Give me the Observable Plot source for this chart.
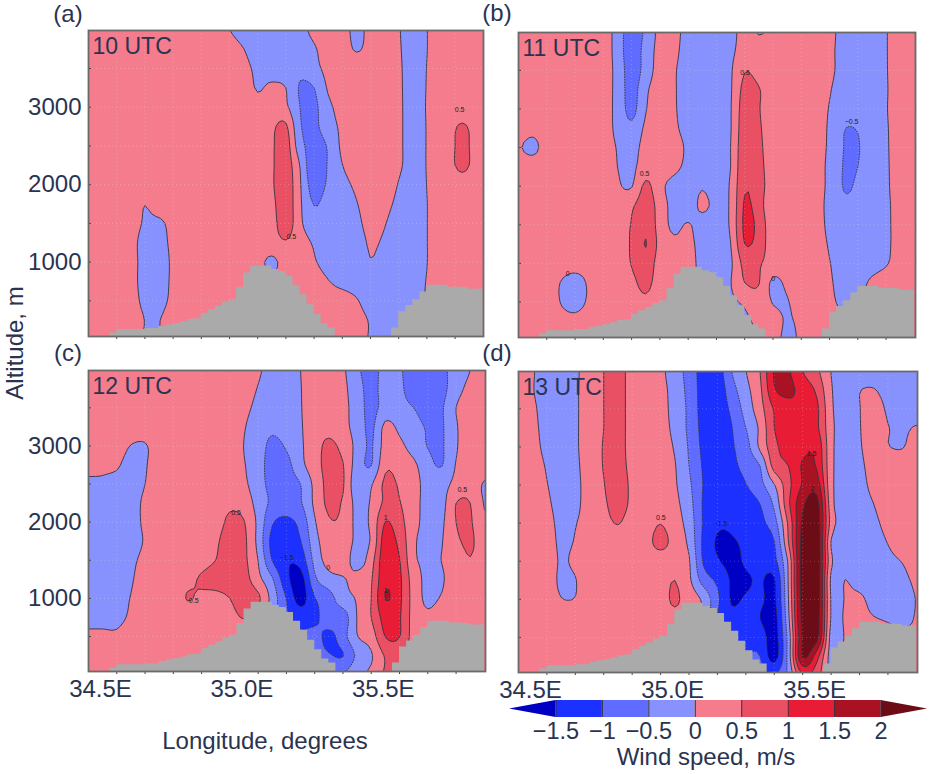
<!DOCTYPE html>
<html><head><meta charset="utf-8">
<script src="https://cdn.jsdelivr.net/npm/d3@7"></script>
<script src="https://cdn.jsdelivr.net/npm/@observablehq/plot@0.6"></script>
<style>
html,body{margin:0;padding:0;background:#fff}
#page{position:relative;width:930px;height:774px;overflow:hidden;font-family:"Liberation Sans",Arial,sans-serif;color:#2a3350}
#page>div{position:absolute}
#page svg{overflow:visible;display:block}
.t{white-space:nowrap;line-height:1}
</style></head><body><div id="page"></div>
<script>
const thresholds=[-2,-1.5,-1,-0.5,0,0.5,1,1.5,2];
const colors=["#0000c4","#1c30ff","#5f6cff","#8892ff","#f47c8c","#ea5064","#e81c34","#a81222","#6c0c16"];
const lonTicks=[34.6,34.7,34.8,34.9,35.0,35.1,35.2,35.3,35.4,35.5,35.6,35.7,35.8];
const lonLabels=[34.5,35.0,35.5];
const altTicks=[500,1000,1500,2000,2500,3000,3500];
const altLabels=[1000,2000,3000];
const terrainAlt=[0,0,0,86,129,129,129,129,142,142,172,190,206,230,260,270,340,385,430,480,515,670,860,950,950,950,905,880,815,700,580,450,325,205,150,0,0,0,0,0,0,0,0,150,360,440,515,615,700,700,700,675,675,670,650,650,650];

// wind speed grids: rows 4000 m down to 0 m by 250 m, columns 34.50E to 35.90E by 0.05
const wind10=[
[.3,.3,.3,.3,.3,.3,.3,.3,.3,.3,.01,-.3,-.3,-.3,-.3,-.17,.14,.3,.19,-.12,.14,.3,.04,-.26,-.01,.29,.3,.3,.3],
[.3,.3,.3,.3,.3,.3,.3,.3,.3,.3,.3,.01,-.3,-.3,-.3,-.3,-.06,.24,.25,-.05,.17,.3,.06,-.24,-.01,.29,.3,.3,.3],
[.3,.3,.3,.3,.3,.3,.3,.3,.3,.3,.3,.17,-.14,-.3,-.3,-.38,-.15,.15,.3,.3,.3,.3,.08,-.22,.01,.3,.3,.3,.3],
[.3,.3,.3,.3,.3,.3,.3,.3,.3,.3,.3,.3,-.05,.12,0,-.55,-.5,.06,.3,.3,.3,.3,.09,-.22,.02,.3,.3,.3,.3],
[.3,.3,.3,.3,.3,.3,.3,.3,.3,.3,.3,.3,.2,.25,.09,-.5,-.6,-.12,.19,.3,.3,.3,.1,-.22,.03,.3,.4,.4,.3],
[.3,.3,.3,.3,.3,.3,.3,.3,.3,.3,.3,.3,.3,.42,.58,-.45,-.6,-.22,.1,.3,.3,.3,.1,-.22,.02,.3,.49,.49,.3],
[.3,.3,.3,.3,.3,.3,.3,.3,.3,.3,.3,.3,.3,.44,.7,-.3,-.7,-.45,.1,.3,.3,.3,.1,-.22,.02,.3,.5,.5,.3],
[.3,.3,.3,.3,.3,.3,.3,.3,.3,.3,.3,.3,.3,.44,.75,-.02,-.9,-.45,-.01,.29,.3,.3,.09,-.22,.02,.3,.5,.5,.3],
[.3,.3,.3,.3,.3,.3,.3,.3,.3,.3,.3,.3,.3,.44,.8,.05,-.75,-.42,-.18,.11,.3,.3,-.03,-.3,.01,.3,.42,.42,.3],
[.3,.3,.3,.3,.01,.3,.3,.3,.3,.3,.3,.3,.3,.38,.8,.08,-.52,-.3,-.3,-.03,.25,.17,-.14,-.3,-.01,.3,.3,.3,.3],
[.3,.3,.3,.24,-.06,-.11,.19,.3,.3,.3,.3,.3,.3,.3,.8,.1,-.3,-.3,-.3,-.13,.17,.03,-.28,-.3,-.01,.3,.3,.3,.3],
[.3,.3,.3,.19,-.2,-.18,.12,.3,.3,.3,.3,.3,.3,.3,.45,.22,-.06,-.3,-.3,-.24,.06,-.08,-.3,-.3,-.01,.3,.3,.3,.3],
[.3,.3,.3,.16,-.15,-.2,.08,.3,.3,.3,.3,.3,.15,-.1,.2,.3,.06,-.25,-.3,-.3,-.03,-.2,-.3,-.3,-.01,.3,.3,.3,.3],
[.3,.3,.3,.15,-.15,-.2,.09,.3,.3,.3,.3,.3,.3,.1,.3,.3,.3,.03,-.2,-.3,-.3,-.3,-.3,-.3,.03,.3,.3,.3,.3],
[.3,.3,.3,.19,-.11,-.17,.13,.3,.3,.3,.3,.3,.3,.3,.3,.3,.3,.3,.3,.06,-.3,-.3,-.3,-.3,.1,.3,.3,.3,.3],
[.3,.3,.3,.3,-.01,-.02,.28,.3,.3,.3,.3,.3,.3,.3,.3,.3,.3,.3,.3,.24,-.06,-.3,-.1,.3,.3,.3,.3,.3,.3],
[.3,.3,.3,.3,-.05,-.05,.3,.3,.3,.3,.3,.3,.3,.3,.3,.3,.3,.3,.3,.24,-.06,-.3,-.1,.3,.3,.3,.3,.3,.3]];
const wind11=[
[.52,.3,.3,.3,.3,.3,.25,-.2,-.8,-.4,.13,.13,-.17,-.3,-.3,-.15,.15,-.03,.1,.3,.3,.3,.13,-.16,-.3,-.3,-.03,.3,.3],
[.3,.3,.3,.3,.3,.3,.25,-.2,-.8,-.3,.15,.1,-.2,-.3,-.3,-.1,.2,.2,.2,.3,.3,.3,.11,-.18,-.3,-.3,-.03,.3,.3],
[.3,.3,.3,.3,.3,.3,.22,-.15,-.75,-.3,.2,.05,-.25,-.3,-.3,-.06,.47,.35,.3,.3,.3,.3,.11,-.18,-.3,-.3,-.03,.25,.3],
[.3,.3,.3,.3,.3,.3,.22,-.15,-.7,-.1,.25,.05,-.25,-.3,-.3,-.05,.65,.52,.3,.3,.3,.3,.04,-.25,-.3,-.3,-.04,.25,.3],
[.3,.3,.3,.3,.3,.3,.22,-.15,-.65,-.03,.28,.06,-.25,-.3,-.3,-.03,.75,.52,.3,.3,.3,.3,-.03,-.3,-.3,-.3,-.03,.25,.3],
[.3,.18,.3,.3,.3,.3,.23,-.12,-.4,.1,.3,.1,-.2,-.3,-.3,-.03,.8,.55,.3,.3,.3,.3,-.08,-.48,-.48,-.3,-.05,.25,.3],
[.05,-.15,.25,.3,.3,.3,.25,-.03,-.2,.2,.3,.22,-.1,-.3,-.3,0,.85,.6,.25,.3,.3,.3,-.1,-.5,-.52,-.3,-.06,.25,.3],
[.3,.3,.3,.3,.3,.3,.28,0,-.1,.25,.3,.15,-.15,-.3,-.3,0,.9,.65,.25,.3,.3,.3,-.15,-.52,-.5,-.3,-.07,.25,.3],
[.3,.3,.3,.3,.3,.3,.3,.06,-.03,.6,.15,-.2,-.3,-.05,-.3,.06,.95,.7,.25,.3,.3,.3,-.15,-.52,-.45,-.3,-.08,.25,.3],
[.3,.3,.3,.3,.3,.3,.3,.15,.42,.75,.3,-.2,-.3,.12,-.15,.06,1.06,.72,.1,.3,.3,.3,-.2,-.42,-.4,-.3,-.1,.22,.3],
[.3,.3,.3,.3,.3,.3,.3,.3,.52,.85,.3,-.12,.04,-.25,-.3,.07,1.1,.85,.15,.3,.3,.3,-.15,-.3,-.3,-.3,-.1,.2,.3],
[.3,.3,.3,.3,.3,.3,.3,.3,.55,1.02,.35,.12,.15,-.2,-.3,-.01,1.0,.8,.2,.3,.3,.3,-.06,-.3,-.3,-.3,-.1,.2,.3],
[.3,.3,.3,.3,.3,.3,.3,.3,.52,.8,.3,.3,.25,-.2,-.3,-.08,.65,.55,.3,.3,.3,.3,.02,-.25,-.3,-.25,-.05,.25,.3],
[.3,.3,.3,-.02,-.3,.1,.3,.3,.4,.62,.3,.3,.3,-.2,-.3,-.02,.5,.52,-.1,.1,.3,.3,.08,-.25,-.25,.12,.3,.3,.3],
[.3,.3,.3,-.02,-.25,.1,.3,.3,.35,.42,.3,.3,.3,-.2,-.3,-.1,.08,.3,-.03,-.03,.25,.3,.15,-.15,-.05,.3,.3,.3,.3],
[.3,.3,.3,.2,.2,.3,.3,.3,.3,.3,.3,.3,.3,-.2,-.3,-.3,-.1,.1,.2,-.05,.12,.3,.3,.1,.1,.3,.3,.3,.3],
[.3,.3,.3,.3,.3,.3,.3,.3,.3,.3,.3,.3,.3,-.2,-.3,-.3,-.2,.05,.2,-.15,.1,.3,.3,.1,.1,.3,.3,.3,.3]];
const wind12=[
[.3,.3,.3,.3,.3,.3,.3,.3,.3,.3,.3,.3,.08,-.22,-.3,0,.3,.3,.08,-.4,-.7,-.3,-.45,-.7,-.7,-.6,-.3,0,.3],
[.3,.3,.3,.3,.3,.3,.3,.3,.3,.3,.3,.25,-.03,-.3,-.3,-.02,.3,.3,.12,-.3,-.65,-.3,-.4,-.75,-.8,-.65,-.2,.15,.3],
[.3,.3,.3,.3,.3,.3,.3,.3,.3,.3,.3,.15,-.15,-.3,-.3,-.03,.3,.3,.15,-.25,-.65,-.3,-.35,-.5,-.75,-.55,0,.3,.3],
[.3,.3,.3,.3,.3,.3,.3,.3,.3,.3,.3,.04,-.3,-.42,-.3,-.05,.3,.35,.15,-.2,-.6,.12,-.1,-.3,-.55,-.55,-.05,.3,.3],
[.3,.3,.3,-.02,-.05,.3,.3,.3,.3,.3,.3,-.01,-.3,-.6,-.45,-.08,.3,.6,.35,-.15,-.55,.2,.1,-.2,-.52,-.55,-.05,.3,.3],
[.15,.12,.08,-.25,-.05,.3,.3,.3,.3,.3,.3,.03,-.3,-.7,-.65,-.15,.3,.65,.52,-.25,-.52,.4,.3,.1,-.35,-.52,.03,.3,.3],
[-.1,-.1,-.2,-.25,0,.3,.3,.3,.3,.3,.3,.1,-.3,-.65,-.7,-.5,.13,.65,.55,-.35,-.05,.6,.45,.25,-.25,-.2,.15,.3,-.05],
[-.3,-.3,-.3,-.22,.1,.3,.3,.3,.3,.3,.42,.3,-.2,-.6,-.75,-.55,.1,.6,.45,-.15,.05,.6,.52,.2,-.2,-.15,.5,.5,-.03],
[-.3,-.3,-.3,-.22,.1,.3,.3,.3,.3,.3,.6,.52,-.12,-.95,-1.1,-.85,-.05,.45,.4,-.12,.1,1.02,.65,.2,-.2,-.08,.5,.55,.1],
[-.3,-.3,-.3,-.25,.05,.3,.3,.3,.3,.42,.75,.6,-.15,-1.15,-1.25,-1.02,-.2,.3,.3,-.1,.05,1.25,.85,.1,-.2,-.02,.42,.55,.3],
[-.3,-.3,-.3,-.12,.15,.3,.3,.3,.35,.5,.75,.6,-.01,-1.02,-1.45,-1.3,-.35,.2,.3,-.25,.3,1.35,1.02,.1,-.05,.01,.3,.48,.3],
[-.3,-.3,-.3,-.06,.25,.3,.3,.4,.55,.7,.8,.7,.15,-.45,-1.35,-1.7,-.6,-.2,-.05,.2,.45,1.4,1.1,.25,-.1,-.05,.3,.3,.3],
[-.3,-.3,-.2,.02,.3,.3,.3,.52,.42,.35,.5,.8,.6,-.2,-1.02,-1.7,-1.02,-.7,-.2,.05,.5,1.52,1.1,.3,-.1,.05,.3,.3,.3],
[-.15,-.15,-.15,.09,.3,.3,.3,.3,.3,.3,.35,.52,.3,-.3,-.9,-1.2,-1.15,-.65,-.75,.02,.5,1.2,1.05,.3,.1,.3,.3,.3,.3],
[.1,.1,.1,.3,.3,.3,.3,.3,.3,.3,.3,.3,.3,-.3,-.6,-.9,-.8,-1.15,-.7,-.02,.25,1.02,1.02,.3,.3,.3,.3,.3,.3],
[.3,.3,.3,.3,.3,.3,.3,.3,.3,.3,.3,.3,.3,-.3,-.5,-.7,-.7,-.95,-1.02,-.4,-.05,.55,.6,.3,.3,.3,.3,.3,.3],
[.3,.3,.3,.3,.3,.3,.3,.3,.3,.3,.3,.3,.3,-.3,-.4,-.5,-.5,-.5,-.5,-.1,.1,.55,.4,.3,.3,.3,.3,.3,.3]];
const wind13=[
[.3,.05,-.3,-.3,-.1,.3,.5,.7,.3,.3,.1,-.25,-.7,-1.2,-1.25,-.5,-.01,.5,1.55,1.55,1.0,.6,-.01,-.3,-.3,-.3,-.3,-.3,-.3],
[.3,.03,-.3,-.3,-.07,.25,.5,.7,.3,.3,.15,-.2,-.65,-1.2,-1.3,-.7,-.15,.4,1.45,1.6,1.3,.9,.05,-.3,-.02,.03,-.25,-.3,-.3],
[.3,.1,-.25,-.3,-.07,.25,.5,.7,.3,.3,.2,-.2,-.6,-1.2,-1.25,-.9,-.3,.3,1.05,1.35,1.4,1.1,.1,-.3,-.02,.3,-.1,-.3,-.3],
[.3,.14,-.2,-.3,-.08,.3,.5,.7,.3,.3,.22,-.15,-.6,-1.15,-1.25,-1.02,-.5,.1,1.0,1.3,1.4,1.1,.15,-.3,-.03,.3,.02,-.1,.05],
[.3,.18,-.15,-.3,-.08,.3,.52,.7,.3,.3,.25,-.05,-.55,-1.1,-1.2,-1.05,-.7,.1,.85,1.25,1.4,1.35,.15,-.3,-.05,.22,.02,-.03,.25],
[.3,.25,-.05,-.3,-.1,.25,.52,.7,.35,.3,.3,.03,-.5,-1.05,-1.2,-1.1,-.85,-.5,.7,1.0,1.55,1.45,.15,-.3,-.1,.18,.3,.3,.3],
[.3,.28,.02,-.25,-.12,.22,.48,.75,.4,.3,.3,.06,-.4,-1.02,-1.15,-1.2,-1.02,-.65,-.03,.85,1.55,1.75,.15,-.25,-.15,.13,.3,.3,.3],
[.3,.3,.1,-.2,-.1,.2,.42,.7,.4,.3,.3,.12,-.3,-1.05,-1.15,-1.2,-1.2,-1.0,-.4,.9,1.9,2.2,.2,-.25,-.2,0,.25,.3,.3],
[.3,.3,.2,-.15,-.02,.18,.35,.52,.3,.3,.49,.2,-.2,-1.05,-1.4,-1.4,-1.2,-1.1,-.7,.6,2.1,2.3,.3,-.25,-.2,-.1,.15,.3,.3],
[.3,.3,.25,-.1,.03,.2,.25,.3,.3,.35,.65,.3,-.1,-1.1,-1.55,-1.55,-1.4,-1.2,-1.02,.5,2.2,2.4,-.02,-.3,-.3,-.2,.02,.3,.3],
[.3,.3,.28,-.05,.1,.25,.3,.3,.3,.3,.25,.3,.05,-1.05,-1.45,-1.6,-1.45,-1.3,-1.15,.1,2.3,2.4,.1,-.3,-.3,-.3,-.15,.02,.25],
[.3,.3,.3,-.1,-.02,.3,.3,.3,.3,.3,.3,.5,.1,-.7,-1.1,-1.55,-1.55,-1.45,-1.55,.05,2.3,2.4,-.1,.01,-.2,-.3,-.3,-.15,.1],
[.3,.3,.3,.02,.02,.3,.3,.3,.3,.3,.35,.55,.3,-.1,-.9,-1.55,-1.45,-1.4,-1.6,0,2.25,2.4,-.05,.03,.1,-.2,-.3,-.3,.02],
[.3,.3,.3,.3,.3,.3,.3,.3,.3,.3,.3,.4,.3,-.1,-1,-1.35,-1.2,-1.5,-1.7,-.1,2.2,2.3,-.05,.06,.15,.03,-.08,-.25,.05],
[.3,.3,.3,.3,.3,.3,.3,.3,.3,.3,.3,.3,.3,-.2,-.8,-1.1,-1.1,-1.2,-1.7,-.3,2.1,2.2,-.2,.05,.2,.3,.3,.3,.1],
[.3,.3,.3,.3,.3,.3,.3,.3,.3,.3,.3,.3,.3,-.3,-.8,-1,-1,-1,-1.7,-.3,2.05,1.2,-.2,.1,.3,.3,.3,.3,.3],
[.3,.3,.3,.3,.3,.3,.3,.3,.3,.3,.3,.3,.3,-.3,-.6,-.8,-.8,-.8,-1,-.4,1.0,.7,-.1,.3,.3,.3,.3,.3,.3]];

const labels10=[[35.219,1325,"0.5"],[35.816,2968,"0.5"]];
const labels11=[[35.301,3475,"0.5"],[34.946,2163,"0.5"],[35.678,2839,"\u22120.5"],[34.674,860,"0"],[35.401,796,"0"]];
const labels12=[[35.022,2120,"0.5"],[34.872,968,"0.5"],[35.201,1527,"\u22121.5"],[35.348,1398,"0"],[35.822,2426,"0.5"],[35.551,2052,"1"],[35.552,1097,"1"]];
const labels13=[[35.001,2065,"0.5"],[35.211,1991,"\u22121.5"],[35.531,2912,"1.5"],[35.534,2452,"2"]];

const legendBins=[[-1.5,-1],[-1,-0.5],[-0.5,0],[0,0.5],[0.5,1],[1,1.5],[1.5,2]];
const legendTicks=[-1.5,-1,-0.5,0,0.5,1,1.5,2];

const page=document.getElementById("page");
const put=(node,left,top)=>{const d=document.createElement("div");d.style.left=left+"px";d.style.top=top+"px";d.appendChild(node);page.appendChild(d);};
const text=(s,cx,cy,size,rot)=>{const d=document.createElement("div");d.className="t";d.textContent=s;d.style.left=cx+"px";d.style.top=cy+"px";d.style.fontSize=size+"px";d.style.transform=`translate(-50%,-50%)${rot?" rotate(-90deg)":""}`;page.appendChild(d);};

const terrain=terrainAlt.map((alt,i)=>({lon:34.5+i*0.025,alt}));
const fmtMinus=d=>String(d).replace("-","\u2212");

// Rendering only: a cubic resampling of the read grid so contour lines come out rounded like the original's.
const K=4;
function cubic(a,b,c,d,t){return b+0.5*t*(c-a+t*(2*a-5*b+4*c-d+t*(3*(b-c)+d-a)));}
function resample(rows){
  const R=rows.length,C=rows[0].length,out=[];
  const at=(r,c)=>rows[Math.max(0,Math.min(R-1,r))][Math.max(0,Math.min(C-1,c))];
  for(let i=0;i<=(R-1)*K;i++){
    const r=Math.floor(i/K),tr=i/K-r;
    for(let j=0;j<=(C-1)*K;j++){
      const c=Math.floor(j/K),tc=j/K-c;
      const v=[-1,0,1,2].map(o=>cubic(at(r+o,c-1),at(r+o,c),at(r+o,c+1),at(r+o,c+2),tc));
      out.push(cubic(v[0],v[1],v[2],v[3],tr));
    }
  }
  return {values:out,width:(C-1)*K+1,height:(R-1)*K+1};
}

function panel(rows,labels,title,box,showLon,showAlt){
  rows.forEach((r,i)=>{if(r.length!==29||rows.length!==17)throw new Error(title+" row "+i+" has "+r.length);});
  const {values,width,height}=resample(rows);
  const ml=showAlt?box.x:6, mb=showLon?36:10, mt=4, mr=4;
  const W=box.w, H=box.h;
  const hx=0.05/K/2, hy=250/K/2;
  const grid={width,height,x1:34.5-hx,x2:35.9+hx,y1:4000+hy,y2:-hy,value:d=>d,thresholds,clip:true};
  const marks=[
    Plot.contour(values,{...grid,fill:"value",stroke:"none"}),
    Plot.contour(values,{...grid,thresholds:[0,0.5,1,1.5,2],fill:"none",stroke:"#33333e",strokeWidth:0.9}),
    Plot.contour(values,{...grid,thresholds:[-0.5,-1,-1.5],fill:"none",stroke:"#33333e",strokeWidth:0.9,strokeDasharray:"1.6,1"}),
    Plot.gridX(lonTicks,{stroke:"#fff",strokeOpacity:0.22,strokeDasharray:"1,3"}),
    Plot.gridY(altTicks,{stroke:"#fff",strokeOpacity:0.22,strokeDasharray:"1,3"}),
    Plot.areaY(terrain,{x:"lon",y:"alt",y1:0,curve:"step-after",fill:"#aaaaaa",clip:true}),
    Plot.text(labels,{x:d=>d[0],y:d=>d[1],text:d=>d[2],fontSize:7,fill:"#222"}),
    Plot.text([title],{frameAnchor:"top-left",dx:4,dy:7,fontSize:23,fill:"#2a3350"}),
    Plot.tickY(altTicks,{y:d=>d,insetRight:W-3,stroke:"#444"}),
    Plot.axisX({ticks:lonTicks,tickSize:3,tickFormat:()=>"",stroke:"#444",label:null}),
    Plot.frame({stroke:"#6a6a6a",strokeWidth:1.8})
  ];
  if(showLon) marks.push(Plot.axisX({ticks:lonLabels,tickSize:0,tickPadding:8,dx:12,tickFormat:d=>d.toFixed(1)+"E",fontSize:24,fill:"#2a3350",label:null}));
  if(showAlt) marks.push(Plot.axisY({ticks:altLabels,tickSize:0,tickPadding:7,tickFormat:d=>String(d),fontSize:24,fill:"#2a3350",label:null}));
  const svg=Plot.plot({
    width:ml+W+mr,height:mt+H+mb,marginLeft:ml,marginRight:mr,marginTop:mt,marginBottom:mb,
    style:{fontFamily:"Liberation Sans, Arial, sans-serif",background:"transparent",overflow:"visible"},
    x:{domain:[34.5,Math.min(35.904,34.5+W/282)],axis:null},
    y:{domain:[40,3990],axis:null},
    color:{type:"ordinal",domain:thresholds,range:colors},
    marks
  });
  put(svg,box.x-ml,box.y-mt);
}

panel(wind10,labels10,"10 UTC",{x:88,y:30,w:395,h:306},false,true);
panel(wind11,labels11,"11 UTC",{x:518,y:32,w:397,h:305},false,false);
panel(wind12,labels12,"12 UTC",{x:88,y:370,w:397,h:301},true,true);
panel(wind13,labels13,"13 UTC",{x:518,y:371,w:399,h:301},true,false);

// colour bar
const legend=Plot.plot({
  width:430,height:50,marginLeft:9,marginRight:3,marginTop:5,marginBottom:28,
  style:{fontFamily:"Liberation Sans, Arial, sans-serif",background:"transparent",overflow:"visible"},
  x:{domain:[-2,2.5],axis:null},
  y:{domain:[0,1],axis:null},
  color:{type:"ordinal",domain:thresholds,range:colors},
  marks:[
    Plot.area([[-2,.5,.5],[-1.5,0,1]],{x1:d=>d[0],y1:d=>d[1],y2:d=>d[2],fill:()=>-2}),
    Plot.area([[2,0,1],[2.5,.5,.5]],{x1:d=>d[0],y1:d=>d[1],y2:d=>d[2],fill:()=>2}),
    Plot.rect(legendBins,{x1:d=>d[0],x2:d=>d[1],y1:0,y2:1,fill:d=>d[0]}),
    Plot.ruleX(legendTicks,{y1:0,y2:1,stroke:"#33333e",strokeWidth:1}),
    Plot.axisX({ticks:legendTicks,tickSize:0,tickPadding:5,tickFormat:fmtMinus,fontSize:23.5,fill:"#2a3350",label:null})
  ]
});
put(legend,500,695);

text("(a)",68,14,24);text("(b)",497,13,24);text("(c)",68,353,24);text("(d)",497,353,24);
text("Altitude, m",15,343,24,true);
text("Longitude, degrees",265,741,24);
text("Wind speed, m/s",706,757,24);
</script></body></html>
